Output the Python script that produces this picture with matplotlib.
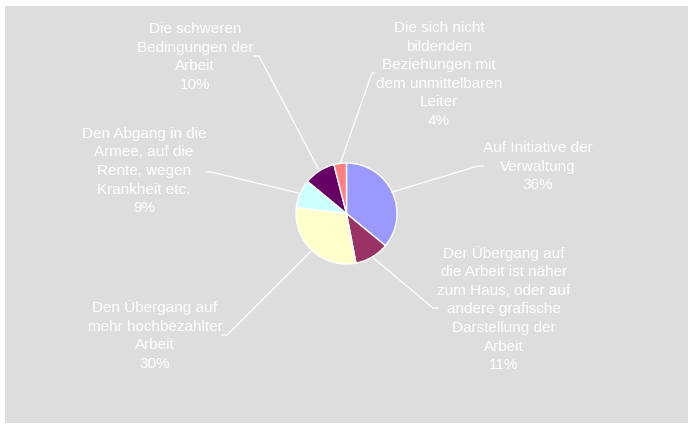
import numpy as np
import matplotlib
matplotlib.use("Agg")
import matplotlib.pyplot as plt
from matplotlib.patches import Rectangle

plt.rcParams['font.family'] = ['Liberation Sans', 'DejaVu Sans']

# ---- data ----
labels = [
    "Auf Initiative der\nVerwaltung",
    "Der Übergang auf\ndie Arbeit ist näher\nzum Haus, oder auf\nandere grafische\nDarstellung der\nArbeit",
    "Den Übergang auf\nmehr hochbezahlter\nArbeit",
    "Den Abgang in die\nArmee, auf die\nRente, wegen\nKrankheit etc.",
    "Die schweren\nBedingungen der\nArbeit",
    "Die sich nicht\nbildenden\nBeziehungen mit\ndem unmittelbaren\nLeiter",
]
values = [36, 11, 30, 9, 10, 4]
colors = ["#9999FF", "#993366", "#FFFFCC", "#CCFFFF", "#660066", "#FF8080"]

# ---- layout (pixel positions, y measured from top) ----
W, H = 695, 429
center = (346.5, 213.5)
radius = 50.5
# label block centres
label_pos = [(538, 166.5), (504, 309), (155, 335.5), (144, 171), (195, 57), (439, 74.5)]
# leader elbow and stub end
elbow = [(478, 166), (433, 308), (227, 335), (211, 172), (259, 56), (372, 73)]
stub = [(483, 166), (438, 308), (222, 335), (206, 172), (254, 56), (374, 73)]

fig = plt.figure(figsize=(W / 100, H / 100), dpi=100)
fig.patch.set_facecolor("white")
ax = fig.add_axes([0, 0, 1, 1])
ax.set_xlim(0, W)
ax.set_ylim(0, H)
ax.set_aspect("equal")
ax.axis("off")

ax.add_patch(Rectangle((5, H - 423), 683, 417, facecolor="#DDDDDD", edgecolor="none", zorder=0))

cx, cy = center[0], H - center[1]
wedges, _ = ax.pie(values, colors=colors, startangle=90, counterclock=False,
                   center=(cx, cy), radius=radius,
                   wedgeprops=dict(edgecolor="white", linewidth=1.0), frame=True)
ax.set_xlim(0, W)
ax.set_ylim(0, H)
ax.axis("off")

total = sum(values)
for i, (lab, v) in enumerate(zip(labels, values)):
    w = wedges[i]
    mid = np.deg2rad((w.theta1 + w.theta2) / 2)
    px, py = cx + radius * np.cos(mid), cy + radius * np.sin(mid)
    ex, ey = elbow[i][0], H - elbow[i][1]
    sx, sy = stub[i][0], H - stub[i][1]
    ax.plot([px, ex, sx], [py, ey, sy], color="white", lw=0.9, zorder=3)
    pct = f"{round(v / total * 100)}%"
    lx, ly = label_pos[i]
    ax.text(lx, H - ly, lab + "\n" + pct, color="white", fontsize=11,
            ha="center", va="center", multialignment="center", linespacing=1.42)

fig.savefig("out.png", dpi=100, facecolor="white")
